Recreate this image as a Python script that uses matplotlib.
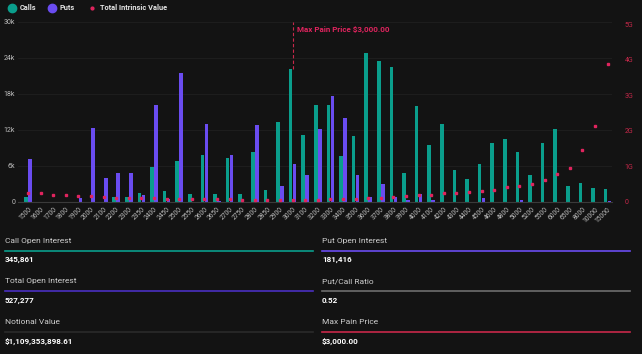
import matplotlib.pyplot as plt
from matplotlib.lines import Line2D
import numpy as np

plt.rcParams['font.family'] = ['Roboto', 'DejaVu Sans']

strikes = ['1500', '1600', '1700', '1800', '1900', '2000', '2100', '2200', '2300', '2350',
           '2400', '2450', '2500', '2550', '2600', '2650', '2700', '2750', '2800', '2850',
           '2900', '3000', '3100', '3200', '3300', '3400', '3500', '3600', '3700', '3800',
           '3900', '4000', '4100', '4200', '4300', '4400', '4500', '4600', '4800', '5000',
           '5200', '5500', '6000', '6500', '8000', '10000', '15000']
# open interest (contracts)
calls = [900, 0, 0, 0, 0, 0, 0, 900, 900, 1550,
         5900, 1800, 6900, 1400, 7800, 1400, 7300, 1300, 8400, 2050,
         13300, 22200, 11200, 16100, 16100, 7600, 10950, 24800, 23550, 22450,
         4900, 16050, 9450, 12950, 5300, 3800, 6300, 9900, 10450, 8300,
         4550, 9800, 12200, 2650, 3150, 2300, 2150]
puts = [7200, 0, 0, 0, 700, 12400, 4050, 4900, 4900, 1100,
        16200, 550, 21500, 0, 13050, 250, 7800, 0, 12900, 0,
        2650, 6300, 4550, 12150, 17600, 14050, 4450, 800, 2950, 800,
        300, 1300, 400, 0, 0, 0, 650, 0, 0, 400,
        0, 0, 0, 0, 0, 0, 150]
# total intrinsic value (billions)
intrinsic = [0.25, 0.25, 0.21, 0.20, 0.18, 0.16, 0.14, 0.12, 0.11, 0.10,
             0.10, 0.09, 0.085, 0.08, 0.08, 0.08, 0.075, 0.06, 0.06, 0.06,
             0.06, 0.065, 0.065, 0.07, 0.075, 0.08, 0.09, 0.10, 0.12, 0.14,
             0.16, 0.19, 0.21, 0.24, 0.26, 0.29, 0.32, 0.35, 0.41, 0.46,
             0.52, 0.62, 0.79, 0.95, 1.46, 2.15, 3.88]
max_pain = '3000'

stats = [('Call Open Interest', '345,861', '#0a9e8c'),
         ('Put Open Interest', '181,416', '#6a4cf0'),
         ('Total Open Interest', '527,277', '#4a2fc0'),
         ('Put/Call Ratio', '0.52', '#6e6e6e'),
         ('Notional Value', '$1,109,353,898.61', '#2a2a2a'),
         ('Max Pain Price', '$3,000.00', '#c8284a')]

bg = '#131313'
c_call = '#0a9e8c'
c_put = '#6a4cf0'
c_dot = '#e0245e'

W, H = 642, 354
fig = plt.figure(figsize=(W / 100, H / 100), dpi=100, facecolor=bg)
ax = fig.add_axes([18 / W, 1 - 202 / H, (612 - 18) / W, 180 / H], facecolor=bg)

x = np.arange(len(strikes))
ax.bar(x - 0.16, calls, width=0.29, color=c_call, zorder=2)
ax.bar(x + 0.16, puts, width=0.29, color=c_put, zorder=2)
ax.set_xlim(-0.8, 46.35)
ax.set_ylim(0, 30000)
ax.set_yticks(np.arange(0, 30001, 6000))
ax.set_yticklabels(['0', '6k', '12k', '18k', '24k', '30k'])
ax.grid(axis='y', color='#1f1f1f', linewidth=0.6, zorder=0)
ax.set_xticks(x)
ax.set_xticklabels(strikes, rotation=45, ha='right', rotation_mode='anchor')
ax.tick_params(axis='x', length=0, pad=3, labelsize=4.9, labelcolor='#bdbdbd')
ax.tick_params(axis='y', length=0, pad=2, labelsize=5, labelcolor='#bdbdbd')
for s in ['top', 'right', 'left']:
    ax.spines[s].set_visible(False)
ax.spines['bottom'].set_color('#3a3a3a')
ax.spines['bottom'].set_linewidth(0.8)

ax2 = ax.twinx()
ax2.plot(x, intrinsic, linestyle='none', marker='s', markersize=2.1, color=c_dot, zorder=3)
ax2.set_ylim(0, 5.06)
ax2.set_yticks([0, 1, 2, 3, 4, 5])
ax2.set_yticklabels(['0', '1G', '2G', '3G', '4G', '5G'])
ax2.tick_params(axis='y', length=0, pad=9, labelsize=5, labelcolor='#c8284a')
for s in ax2.spines.values():
    s.set_visible(False)

# max pain marker
mp = strikes.index(max_pain)
ax.plot([mp, mp], [calls[mp], 30000], color='#c8284a', linestyle=(0, (3, 2)), linewidth=0.8, zorder=3)
ax.text(mp + 0.35, 29300, 'Max Pain Price $3,000.00', color='#e0245e', fontsize=5.8,
        fontweight='bold', va='top', ha='left')

# legend
leg = [(12, c_call, 6, 'Calls', 20), (52, c_put, 6, 'Puts', 60), (92, c_dot, 2, 'Total Intrinsic Value', 100)]
for px, col, ms, lab, tx in leg:
    fig.add_artist(Line2D([px / W], [1 - 8 / H], marker='o', markersize=ms, color=col,
                          linestyle='none', transform=fig.transFigure))
    fig.text(tx / W, 1 - 8 / H, lab, color='#e6e6e6', fontsize=5.3, fontweight='bold',
             va='center', ha='left')

# stats panel
cols = [(5, 313), (322, 630)]
rows = [(240.5, 250.5, 259.5), (281.5, 291, 300.5), (322, 332, 341.5)]
for k, (lab, val, col) in enumerate(stats):
    x0, x1 = cols[k % 2]
    ly, yl, vy = rows[k // 2]
    fig.text(x0 / W, 1 - ly / H, lab, color='#cfcfcf', fontsize=6, va='center', ha='left')
    fig.add_artist(Line2D([x0 / W, x1 / W], [1 - yl / H, 1 - yl / H], color=col, linewidth=1.2,
                          transform=fig.transFigure))
    fig.text(x0 / W, 1 - vy / H, val, color='#ffffff', fontsize=5.8, fontweight='bold',
             va='center', ha='left')

fig.savefig('out.png', dpi=100, facecolor=bg)
